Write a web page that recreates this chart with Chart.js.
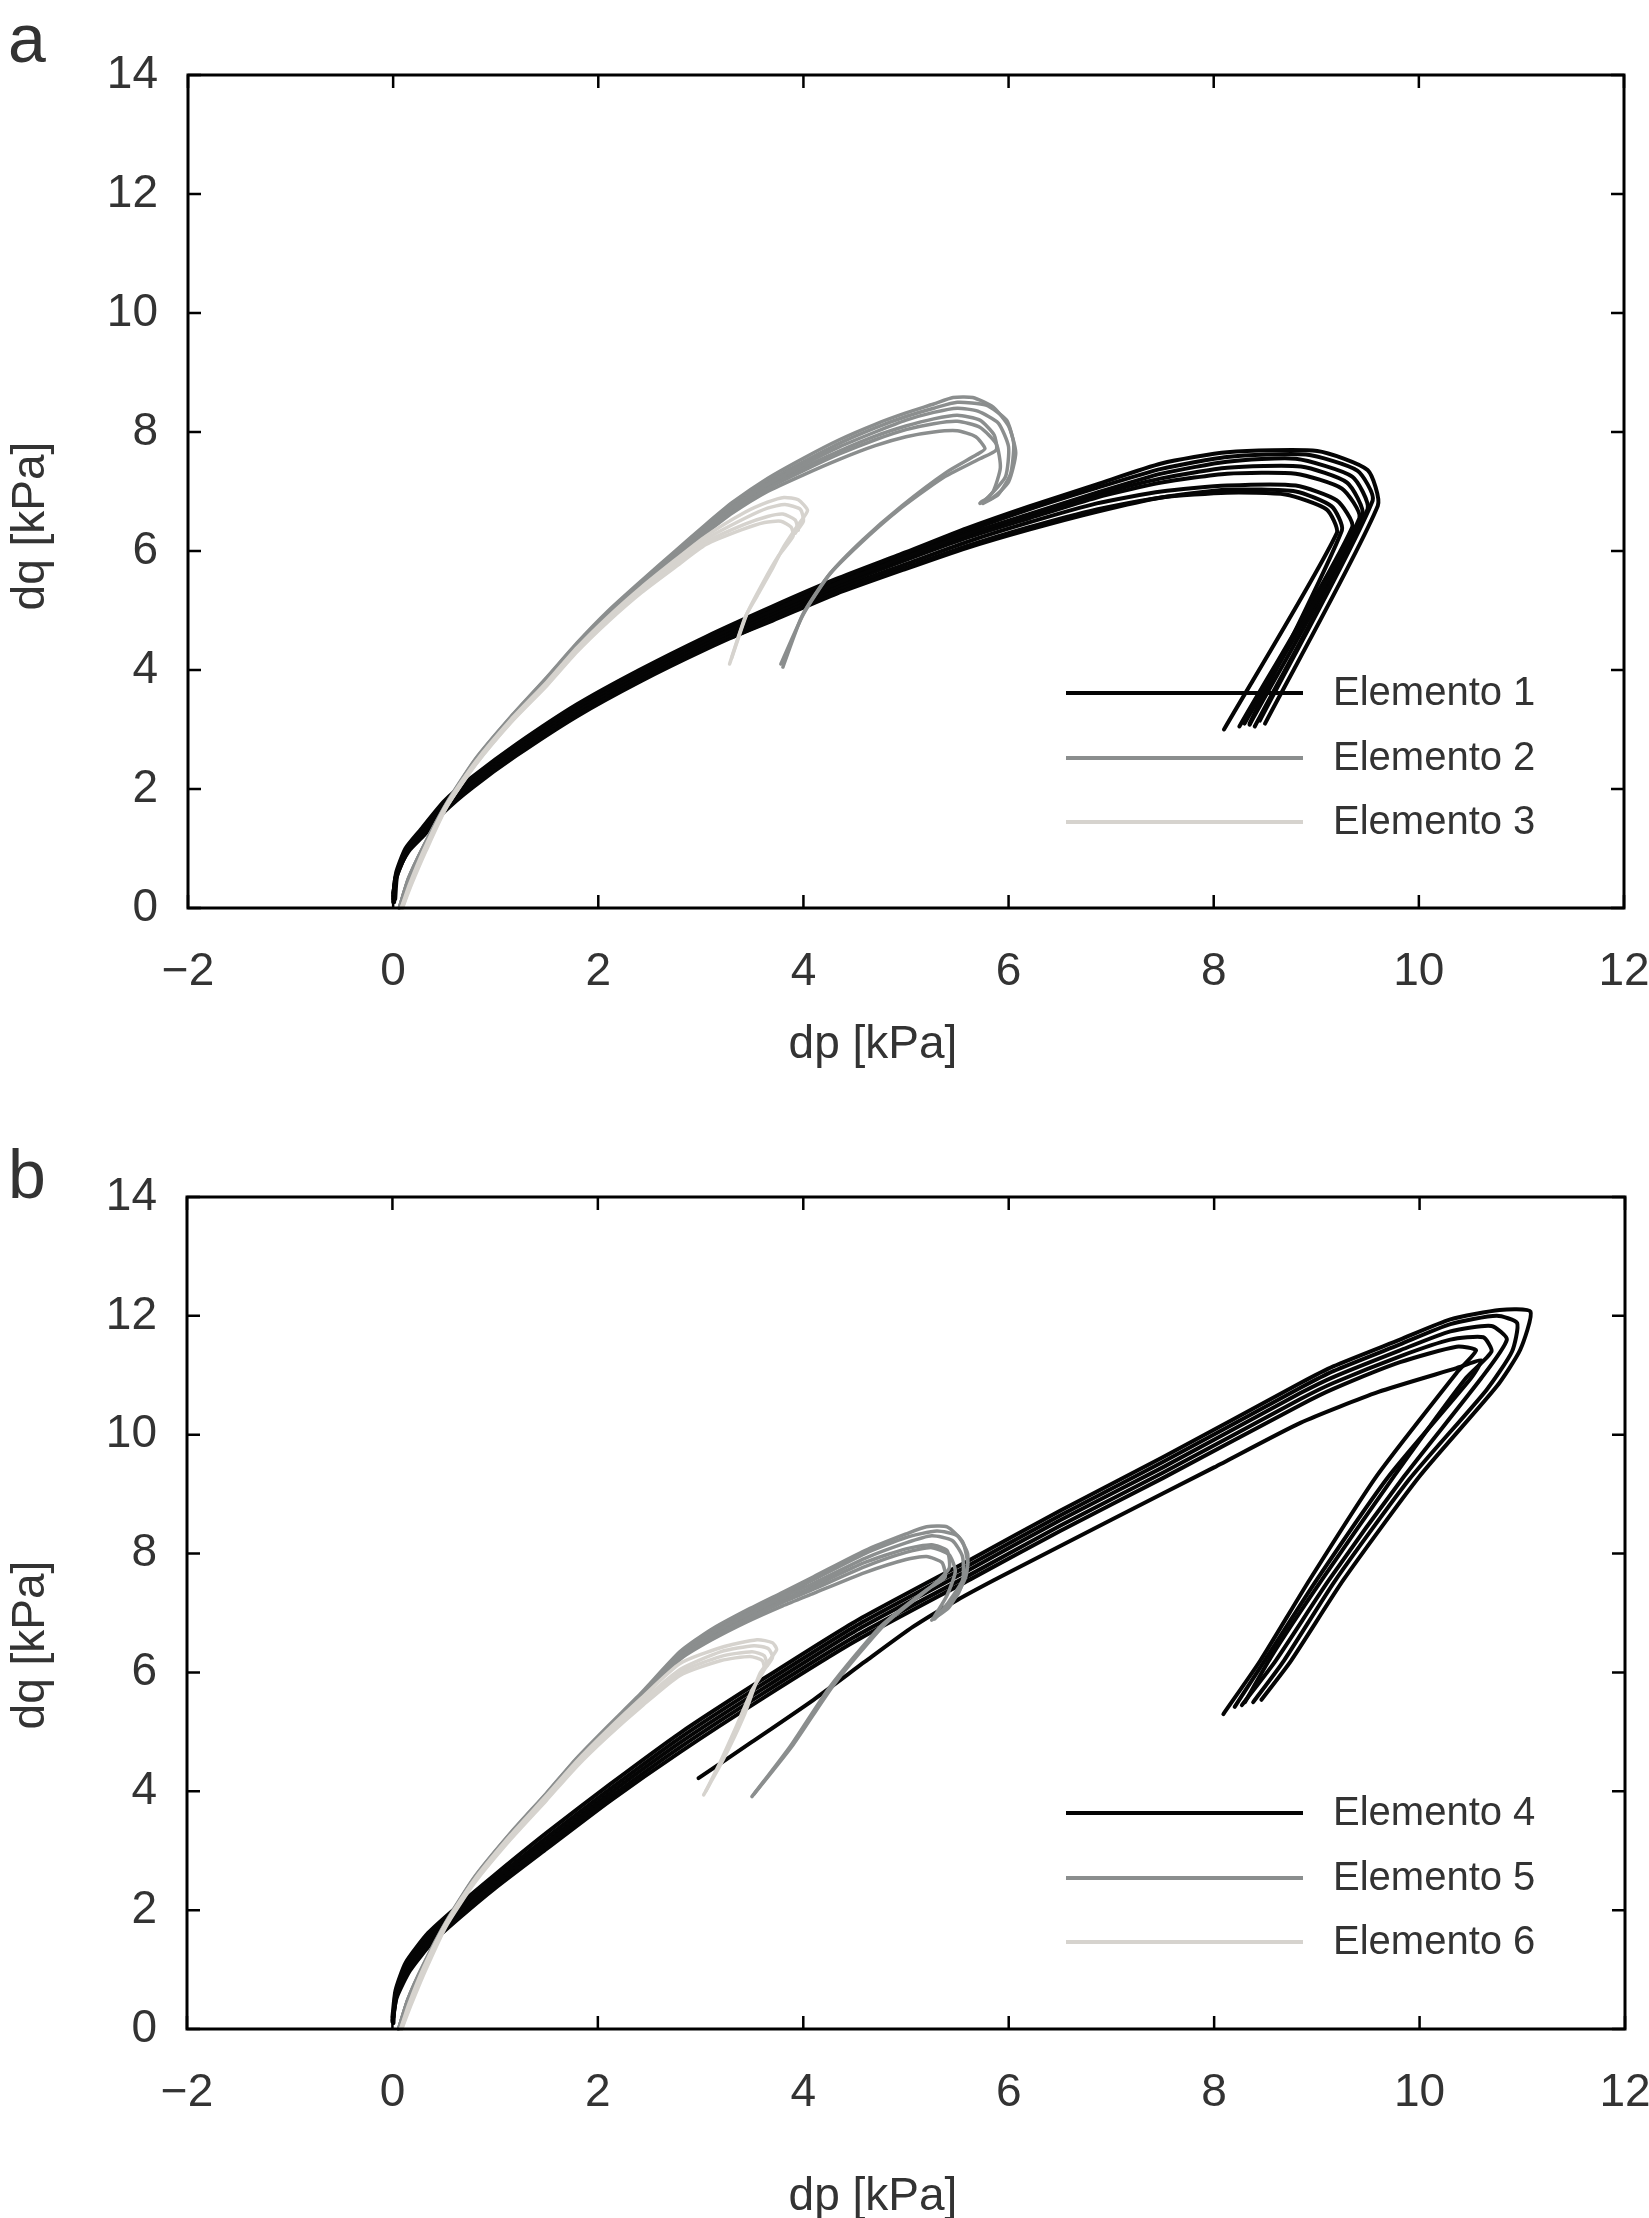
<!DOCTYPE html>
<html><head><meta charset="utf-8">
<script src="https://cdn.jsdelivr.net/npm/chart.js@4/dist/chart.umd.min.js"></script>
<style>
html,body{margin:0;padding:0;background:#fff;width:1649px;height:2218px;overflow:hidden}
canvas{position:absolute;left:0}
</style></head><body>
<canvas id="ca" width="1649" height="1100" style="top:0;width:1649px;height:1100px"></canvas>
<canvas id="cb" width="1649" height="1118" style="top:1100px;width:1649px;height:1118px"></canvas>
<script>
// ---------- axes / labels ----------
const xTickValues = [-2, 0, 2, 4, 6, 8, 10, 12];
const yTickValues = [0, 2, 4, 6, 8, 10, 12, 14];
const xAxisTitle = "dp [kPa]";
const yAxisTitle = "dq [kPa]";
const legendA = ["Elemento 1", "Elemento 2", "Elemento 3"];
const legendB = ["Elemento 4", "Elemento 5", "Elemento 6"];

// ---------- panel a : Elemento 1 (black) ----------
const e1_c1 = [[0.0,0.2],[0.03,0.6],[0.12,1.0],[0.26,1.3],[0.5,1.8],[0.77,2.2],[1.2,2.75],[1.79,3.42],[2.4,4.0],[3.05,4.56],[3.7,5.07],[4.32,5.53],[5.0,5.98],[5.59,6.38],[6.2,6.75],[6.86,7.12],[7.49,7.47],[8.13,7.66],[9.01,7.68],[9.5,7.36],[9.6,6.76],[8.5,3.1]];
const e1_c2 = [[0.0,0.1],[0.02,0.5],[0.12,0.95],[0.26,1.25],[0.5,1.74],[0.77,2.15],[1.2,2.7],[1.79,3.37],[2.4,3.95],[3.05,4.5],[3.7,5.0],[4.32,5.45],[5.0,5.9],[5.59,6.28],[6.2,6.62],[6.86,6.98],[7.49,7.3],[8.13,7.5],[8.8,7.55],[9.35,7.25],[9.5,6.7],[8.4,3.05]];
const e1_c3 = [[0.02,0.15],[0.04,0.55],[0.15,0.98],[0.3,1.28],[0.5,1.7],[0.77,2.1],[1.2,2.65],[1.79,3.32],[2.4,3.9],[3.05,4.45],[3.7,4.95],[4.32,5.4],[5.0,5.85],[5.59,6.22],[6.2,6.55],[6.86,6.9],[7.49,7.15],[8.13,7.3],[8.8,7.3],[9.25,7.05],[9.42,6.55],[8.3,3.1]];
const e1_c4 = [[0.01,0.1],[0.03,0.5],[0.14,0.95],[0.3,1.25],[0.5,1.66],[0.77,2.06],[1.2,2.6],[1.79,3.27],[2.4,3.85],[3.05,4.4],[3.7,4.9],[4.32,5.35],[5.0,5.78],[5.59,6.15],[6.2,6.48],[6.86,6.8],[7.49,7.0],[8.13,7.1],[8.8,7.1],[9.2,6.85],[9.35,6.4],[8.25,3.05]];
const e1_c5 = [[0.0,0.25],[0.04,0.6],[0.15,0.95],[0.3,1.22],[0.5,1.62],[0.77,2.02],[1.2,2.56],[1.79,3.22],[2.4,3.8],[3.05,4.35],[3.7,4.85],[4.32,5.3],[5.0,5.72],[5.59,6.08],[6.2,6.4],[6.86,6.7],[7.49,6.9],[8.13,6.98],[8.7,6.95],[9.1,6.7],[9.2,6.3],[8.1,3.0]];
const e1_c6 = [[3.3,4.55],[3.7,4.83],[4.32,5.28],[5.0,5.7],[5.59,6.05],[6.2,6.36],[6.86,6.66],[7.49,6.9],[8.13,7.03],[8.8,7.0],[9.15,6.75],[9.25,6.35],[8.35,3.1]];
const e1_c7 = [[0.0,0.15],[0.03,0.55],[0.13,0.98],[0.27,1.28],[0.5,1.77],[0.77,2.18],[1.2,2.72],[1.79,3.4],[2.4,3.98],[3.05,4.53],[3.7,5.04],[4.32,5.5],[5.0,5.95],[5.59,6.33],[6.2,6.7],[6.86,7.06],[7.49,7.38],[8.13,7.58],[8.9,7.62],[9.4,7.35],[9.55,6.85],[8.45,3.15]];
const e1_c8 = [[0.01,0.2],[0.03,0.55],[0.14,0.96],[0.29,1.26],[0.5,1.72],[0.77,2.12],[1.2,2.68],[1.79,3.35],[2.4,3.92],[3.05,4.47],[3.7,4.97],[4.32,5.43],[5.0,5.87],[5.59,6.25],[6.2,6.58],[6.86,6.94],[7.49,7.22],[8.13,7.4],[8.85,7.42],[9.3,7.15],[9.45,6.6],[8.35,3.08]];

// ---------- panel a : Elemento 2 (grey) ----------
const e2_c1 = [[0.06,0.0],[0.15,0.5],[0.3,1.05],[0.52,1.76],[0.8,2.5],[1.15,3.22],[1.5,3.88],[1.79,4.45],[2.1,5.0],[2.42,5.5],[2.75,6.0],[3.05,6.45],[3.31,6.82],[3.65,7.22],[4.0,7.56],[4.35,7.87],[4.7,8.13],[5.0,8.32],[5.27,8.47],[5.46,8.58],[5.65,8.58],[5.85,8.42],[6.0,8.1],[6.07,7.65],[6.0,7.16],[5.85,6.9],[5.72,6.8]];
const e2_c2 = [[0.07,0.0],[0.16,0.5],[0.31,1.05],[0.52,1.74],[0.8,2.47],[1.15,3.2],[1.5,3.85],[1.79,4.42],[2.1,4.96],[2.42,5.45],[2.75,5.94],[3.05,6.38],[3.31,6.74],[3.65,7.12],[4.0,7.45],[4.35,7.75],[4.7,8.0],[5.0,8.2],[5.27,8.33],[5.5,8.4],[5.7,8.35],[5.9,8.15],[6.0,7.75],[5.97,7.25],[5.8,6.9],[5.73,6.82]];
const e2_c3 = [[0.06,0.0],[0.15,0.48],[0.3,1.02],[0.52,1.72],[0.8,2.45],[1.15,3.18],[1.5,3.83],[1.79,4.4],[2.1,4.93],[2.42,5.42],[2.75,5.9],[3.05,6.33],[3.31,6.68],[3.65,7.05],[4.0,7.35],[4.35,7.63],[4.7,7.87],[5.0,8.04],[5.27,8.14],[5.5,8.18],[5.72,8.08],[5.88,7.8],[5.92,7.4],[5.85,7.0],[5.75,6.82]];
const e2_c4 = [[0.07,0.0],[0.16,0.47],[0.31,1.02],[0.52,1.7],[0.8,2.43],[1.15,3.16],[1.5,3.81],[1.79,4.38],[2.1,4.91],[2.42,5.4],[2.75,5.88],[3.05,6.3],[3.31,6.64],[3.65,7.0],[4.0,7.28],[4.35,7.54],[4.7,7.77],[5.0,7.92],[5.27,8.0],[5.5,8.02],[5.68,7.92],[5.77,7.72],[5.69,7.62],[5.4,7.33],[4.96,6.76],[4.58,6.19],[4.26,5.62],[4.0,4.94],[3.78,4.1]];
const e2_c5 = [[0.06,0.0],[0.15,0.49],[0.3,1.04],[0.52,1.73],[0.8,2.46],[1.15,3.19],[1.5,3.84],[1.79,4.41],[2.1,4.94],[2.42,5.44],[2.75,5.92],[3.05,6.35],[3.31,6.7],[3.65,7.08],[4.0,7.4],[4.35,7.68],[4.7,7.93],[5.0,8.1],[5.27,8.22],[5.5,8.28],[5.72,8.2],[5.86,7.95],[5.88,7.7],[5.72,7.55],[5.35,7.22],[4.92,6.68],[4.55,6.12],[4.24,5.58],[3.99,4.92],[3.8,4.05]];
const e2_c6 = [[0.06,0.0],[0.15,0.5],[0.3,1.05],[0.52,1.75],[0.8,2.49],[1.15,3.21],[1.5,3.87],[1.79,4.44],[2.1,4.98],[2.42,5.48],[2.75,5.97],[3.05,6.42],[3.31,6.78],[3.65,7.17],[4.0,7.5],[4.35,7.81],[4.7,8.07],[5.0,8.26],[5.27,8.4],[5.5,8.5],[5.78,8.45],[5.98,8.2],[6.05,7.8],[6.02,7.3],[5.9,6.95],[5.75,6.8]];

// ---------- panel a : Elemento 3 (light grey) ----------
const e3_c1 = [[0.08,0.0],[0.16,0.4],[0.3,0.98],[0.52,1.74],[0.8,2.45],[1.15,3.17],[1.5,3.8],[1.79,4.37],[2.1,4.9],[2.42,5.39],[2.75,5.85],[3.05,6.25],[3.43,6.65],[3.65,6.82],[3.81,6.9],[3.95,6.86],[4.04,6.68],[3.94,6.42],[3.8,6.05],[3.69,5.68],[3.55,5.25],[3.43,4.88],[3.28,4.1]];
const e3_c2 = [[0.09,0.0],[0.17,0.4],[0.31,0.97],[0.52,1.72],[0.8,2.43],[1.15,3.15],[1.5,3.78],[1.79,4.34],[2.1,4.87],[2.42,5.35],[2.75,5.8],[3.05,6.2],[3.43,6.55],[3.65,6.72],[3.82,6.78],[3.97,6.7],[4.0,6.5],[3.92,6.3]];
const e3_c3 = [[0.08,0.0],[0.17,0.39],[0.31,0.96],[0.52,1.7],[0.8,2.41],[1.15,3.13],[1.5,3.76],[1.79,4.32],[2.1,4.84],[2.42,5.32],[2.75,5.76],[3.05,6.15],[3.43,6.45],[3.65,6.58],[3.8,6.62],[3.92,6.52],[3.95,6.35]];
const e3_c4 = [[0.09,0.0],[0.18,0.4],[0.32,0.96],[0.52,1.69],[0.8,2.4],[1.15,3.12],[1.5,3.74],[1.79,4.3],[2.1,4.82],[2.42,5.3],[2.75,5.73],[3.05,6.11],[3.4,6.36],[3.62,6.48],[3.78,6.5],[3.88,6.4],[3.9,6.25],[3.75,5.9],[3.6,5.45],[3.45,4.95],[3.3,4.2]];

// ---------- panel b : Elemento 4 (black) ----------
const e4_c1 = [[0.0,0.2],[0.03,0.65],[0.13,1.12],[0.35,1.62],[0.63,2.06],[1.0,2.6],[1.5,3.3],[2.12,4.12],[2.8,4.98],[3.6,5.88],[4.5,6.85],[5.63,7.9],[6.5,8.72],[7.5,9.62],[8.84,10.87],[9.16,11.15],[9.81,11.6],[10.3,11.94],[10.78,12.1],[11.08,12.07],[10.98,11.43],[10.75,10.81],[10.0,9.3],[9.26,7.56],[8.75,6.2],[8.46,5.54]];
const e4_c2 = [[0.01,0.1],[0.03,0.6],[0.14,1.08],[0.36,1.58],[0.63,2.0],[1.0,2.53],[1.5,3.22],[2.12,4.04],[2.8,4.9],[3.6,5.8],[4.5,6.77],[5.63,7.82],[6.5,8.64],[7.5,9.54],[8.84,10.79],[9.16,11.07],[9.81,11.52],[10.3,11.86],[10.75,12.0],[10.95,11.88],[10.9,11.4],[10.65,10.75],[9.9,9.25],[9.18,7.55],[8.68,6.2],[8.38,5.5]];
const e4_c3 = [[0.0,0.15],[0.04,0.58],[0.15,1.05],[0.37,1.54],[0.64,1.96],[1.0,2.47],[1.5,3.15],[2.12,3.97],[2.8,4.82],[3.6,5.72],[4.5,6.69],[5.63,7.74],[6.5,8.56],[7.5,9.45],[8.84,10.7],[9.16,10.97],[9.81,11.42],[10.3,11.74],[10.7,11.83],[10.85,11.6],[10.6,10.95],[9.85,9.3],[9.12,7.56],[8.6,6.2],[8.27,5.45]];
const e4_c4 = [[0.01,0.2],[0.04,0.55],[0.16,1.02],[0.38,1.5],[0.65,1.92],[1.0,2.42],[1.5,3.09],[2.12,3.9],[2.8,4.74],[3.6,5.64],[4.5,6.6],[5.63,7.65],[6.5,8.47],[7.5,9.36],[8.84,10.6],[9.16,10.87],[9.81,11.32],[10.3,11.6],[10.62,11.64],[10.7,11.4],[10.45,10.95],[9.75,9.3],[9.05,7.56],[8.55,6.25],[8.3,5.5]];
const e4_c5 = [[0.0,0.12],[0.04,0.52],[0.17,0.98],[0.39,1.46],[0.66,1.88],[1.0,2.37],[1.5,3.03],[2.12,3.84],[2.8,4.66],[3.6,5.56],[4.5,6.52],[5.63,7.57],[6.5,8.38],[7.5,9.27],[8.84,10.5],[9.16,10.77],[9.81,11.22],[10.36,11.48],[10.55,11.42],[10.36,11.04],[9.58,9.3],[8.93,7.56],[8.45,6.2],[8.09,5.3]];
const e4_c6 = [[2.98,4.22],[3.5,4.83],[4.1,5.54],[4.6,6.18],[5.07,6.77],[5.5,7.22],[5.92,7.61],[7.0,8.57],[8.0,9.45],[8.84,10.2],[9.6,10.72],[10.36,11.12],[10.6,11.25],[10.5,10.95],[9.7,9.3],[9.0,7.56],[8.5,6.22],[8.2,5.42]];

// ---------- panel b : Elemento 5 (grey) ----------
const e5_c1 = [[0.06,0.0],[0.15,0.5],[0.3,1.08],[0.52,1.8],[0.8,2.56],[1.15,3.3],[1.5,3.97],[1.79,4.55],[2.1,5.1],[2.42,5.65],[2.8,6.35],[3.1,6.72],[3.45,7.05],[3.8,7.35],[4.1,7.61],[4.6,8.05],[5.0,8.33],[5.2,8.45],[5.4,8.45],[5.55,8.2],[5.6,7.8],[5.5,7.3],[5.3,6.95]];
const e5_c2 = [[0.07,0.0],[0.16,0.5],[0.31,1.07],[0.52,1.78],[0.8,2.54],[1.15,3.28],[1.5,3.95],[1.79,4.53],[2.1,5.07],[2.42,5.62],[2.8,6.3],[3.1,6.65],[3.45,6.97],[3.8,7.27],[4.1,7.5],[4.6,7.92],[5.0,8.18],[5.25,8.3],[5.45,8.22],[5.55,7.95],[5.55,7.55],[5.4,7.15],[5.28,6.9]];
const e5_c3 = [[0.06,0.0],[0.15,0.48],[0.3,1.05],[0.52,1.76],[0.8,2.52],[1.15,3.26],[1.5,3.93],[1.79,4.5],[2.1,5.04],[2.42,5.58],[2.8,6.25],[3.1,6.58],[3.45,6.9],[3.8,7.18],[4.1,7.4],[4.6,7.78],[5.0,8.02],[5.25,8.1],[5.42,7.98],[5.48,7.7],[5.4,7.3],[5.27,6.92]];
const e5_c4 = [[0.07,0.0],[0.16,0.47],[0.31,1.04],[0.52,1.75],[0.8,2.5],[1.15,3.24],[1.5,3.91],[1.79,4.48],[2.1,5.02],[2.42,5.55],[2.8,6.22],[3.1,6.54],[3.45,6.85],[3.8,7.12],[4.1,7.33],[4.6,7.68],[5.0,7.9],[5.2,7.95],[5.35,7.85],[5.38,7.6],[5.2,7.39],[4.75,6.77],[4.26,5.76],[3.87,4.75],[3.5,3.91]];
const e5_c5 = [[0.06,0.0],[0.15,0.49],[0.3,1.06],[0.52,1.77],[0.8,2.53],[1.15,3.27],[1.5,3.94],[1.79,4.51],[2.1,5.05],[2.42,5.6],[2.8,6.27],[3.1,6.6],[3.45,6.93],[3.8,7.22],[4.1,7.45],[4.6,7.85],[5.0,8.08],[5.25,8.15],[5.4,8.05],[5.42,7.75],[5.25,7.45],[4.8,6.82],[4.3,5.8],[3.9,4.78],[3.52,3.95]];
const e5_c6 = [[0.06,0.0],[0.15,0.5],[0.3,1.07],[0.52,1.79],[0.8,2.55],[1.15,3.29],[1.5,3.96],[1.79,4.54],[2.1,5.08],[2.42,5.63],[2.8,6.32],[3.1,6.68],[3.45,7.0],[3.8,7.3],[4.1,7.56],[4.6,8.0],[5.0,8.27],[5.3,8.38],[5.5,8.3],[5.6,8.0],[5.58,7.6],[5.42,7.1],[5.25,6.88]];

// ---------- panel b : Elemento 6 (light grey) ----------
const e6_c1 = [[0.08,0.0],[0.16,0.42],[0.3,1.02],[0.52,1.78],[0.8,2.52],[1.15,3.26],[1.5,3.93],[1.79,4.5],[2.1,5.04],[2.42,5.56],[2.8,6.15],[3.2,6.42],[3.55,6.55],[3.7,6.5],[3.74,6.38],[3.58,5.99],[3.42,5.26],[3.22,4.53],[3.03,3.94]];
const e6_c2 = [[0.09,0.0],[0.17,0.41],[0.31,1.0],[0.52,1.76],[0.8,2.5],[1.15,3.23],[1.5,3.9],[1.79,4.47],[2.1,5.0],[2.42,5.5],[2.8,6.05],[3.2,6.35],[3.52,6.45],[3.66,6.4],[3.7,6.25],[3.6,6.0]];
const e6_c3 = [[0.08,0.0],[0.17,0.4],[0.31,0.99],[0.52,1.74],[0.8,2.48],[1.15,3.21],[1.5,3.87],[1.79,4.44],[2.1,4.97],[2.42,5.46],[2.8,6.0],[3.2,6.27],[3.5,6.35],[3.62,6.28],[3.65,6.12]];
const e6_c4 = [[0.09,0.0],[0.18,0.4],[0.32,0.98],[0.52,1.72],[0.8,2.46],[1.15,3.19],[1.5,3.85],[1.79,4.41],[2.1,4.93],[2.42,5.42],[2.8,5.95],[3.2,6.2],[3.48,6.27],[3.6,6.2],[3.62,6.05],[3.5,5.7],[3.35,5.1],[3.18,4.45],[3.05,4.0]];

// ---------- styling ----------
const COL_BLACK = '#050505';
const COL_GREY = '#8b8e8e';
const COL_LIGHT = '#d6d3ce';
const FONT = '"Liberation Sans", Arial, Helvetica, sans-serif';
const TXT = '#333333';

function ds(arr, color, order, width) {
  return {
    data: arr.map(p => ({x: p[0], y: p[1]})),
    showLine: true, borderColor: color, backgroundColor: color,
    borderWidth: width, pointRadius: 0, pointHoverRadius: 0,
    tension: 0.2, order: order, borderJoinStyle: 'round', borderCapStyle: 'round', clip: false
  };
}

function decorPlugin(o) {
  return {
    id: 'decor',
    afterDraw(chart) {
      const ctx = chart.ctx, a = chart.chartArea, xs = chart.scales.x, ys = chart.scales.y;
      ctx.save();
      ctx.strokeStyle = '#000'; ctx.lineWidth = 3;
      ctx.strokeRect(a.left, a.top, a.right - a.left, a.bottom - a.top);
      ctx.lineWidth = 2.5;
      xs.ticks.forEach(t => {
        const px = xs.getPixelForValue(t.value);
        ctx.beginPath();
        ctx.moveTo(px, a.bottom); ctx.lineTo(px, a.bottom - 13);
        ctx.moveTo(px, a.top); ctx.lineTo(px, a.top + 13);
        ctx.stroke();
      });
      ys.ticks.forEach(t => {
        const py = ys.getPixelForValue(t.value);
        ctx.beginPath();
        ctx.moveTo(a.left, py); ctx.lineTo(a.left + 13, py);
        ctx.moveTo(a.right, py); ctx.lineTo(a.right - 13, py);
        ctx.stroke();
      });
      ctx.fillStyle = TXT;
      ctx.font = '68px ' + FONT;
      ctx.textAlign = 'left'; ctx.textBaseline = 'alphabetic';
      ctx.fillText(o.letter, 8, o.letterBase);
      ctx.font = '46px ' + FONT;
      ctx.textAlign = 'center'; ctx.textBaseline = 'middle';
      ctx.fillText(xAxisTitle, o.xTitle[0], o.xTitle[1]);
      ctx.save();
      ctx.translate(o.yTitle[0], o.yTitle[1]);
      ctx.rotate(-Math.PI / 2);
      ctx.fillText(yAxisTitle, 0, 0);
      ctx.restore();
      ctx.font = '40px ' + FONT;
      ctx.textAlign = 'left'; ctx.textBaseline = 'middle';
      o.legend.forEach((lab, i) => {
        const y = o.legendY[i];
        ctx.strokeStyle = o.legendCols[i]; ctx.lineWidth = 4;
        ctx.beginPath(); ctx.moveTo(1066, y); ctx.lineTo(1303, y); ctx.stroke();
        ctx.fillStyle = TXT;
        ctx.fillText(lab, 1333, y + 1);
      });
      ctx.restore();
    }
  };
}

function zeroPad(s) { s.paddingLeft = 0; s.paddingRight = 0; s.paddingTop = 0; s.paddingBottom = 0; }

function makeChart(id, datasets, o) {
  return new Chart(document.getElementById(id), {
    type: 'scatter',
    data: {datasets: datasets},
    options: {
      responsive: false, animation: false, devicePixelRatio: 1,
      layout: {padding: {top: o.top, right: o.right, left: 0, bottom: 0}},
      plugins: {legend: {display: false}, tooltip: {enabled: false}, title: {display: false}},
      scales: {
        x: {
          type: 'linear', min: -2, max: 12,
          grid: {display: false, drawTicks: false}, border: {display: false},
          afterBuildTicks: s => { s.ticks = xTickValues.map(v => ({value: v})); },
          afterFit: s => { s.height = o.xHeight; zeroPad(s); },
          ticks: {padding: 37, color: TXT, font: {family: FONT, size: 46},
                  callback: v => (v < 0 ? '\u2212' + Math.abs(v) : String(v))}
        },
        y: {
          type: 'linear', min: 0, max: 14,
          grid: {display: false, drawTicks: false}, border: {display: false},
          afterBuildTicks: s => { s.ticks = yTickValues.map(v => ({value: v})); },
          afterFit: s => { s.width = o.yWidth; zeroPad(s); },
          ticks: {padding: 30, color: TXT, font: {family: FONT, size: 46}}
        }
      }
    },
    plugins: [decorPlugin(o)]
  });
}

const dsA = [
  ...[e3_c1, e3_c2, e3_c3, e3_c4].map(a => ds(a, COL_LIGHT, 1, 3.5)),
  ...[e2_c1, e2_c2, e2_c3, e2_c4, e2_c5, e2_c6].map(a => ds(a, COL_GREY, 2, 3.5)),
  ...[e1_c1, e1_c2, e1_c3, e1_c4, e1_c5, e1_c6, e1_c7, e1_c8].map(a => ds(a, COL_BLACK, 3, 4))
];
const dsB = [
  ...[e6_c1, e6_c2, e6_c3, e6_c4].map(a => ds(a, COL_LIGHT, 1, 3.5)),
  ...[e5_c1, e5_c2, e5_c3, e5_c4, e5_c5, e5_c6].map(a => ds(a, COL_GREY, 2, 3.5)),
  ...[e4_c1, e4_c2, e4_c3, e4_c4, e4_c5, e4_c6].map(a => ds(a, COL_BLACK, 3, 4))
];

makeChart('ca', dsA, {
  top: 75, right: 25, xHeight: 1100 - 908, yWidth: 188,
  letter: 'a', letterBase: 62, xTitle: [873, 1045], yTitle: [31, 526],
  legend: legendA, legendY: [693, 758, 822], legendCols: [COL_BLACK, COL_GREY, COL_LIGHT]
});
makeChart('cb', dsB, {
  top: 97, right: 24, xHeight: 1118 - 929, yWidth: 187,
  letter: 'b', letterBase: 98, xTitle: [873, 1097], yTitle: [31, 545],
  legend: legendB, legendY: [713, 778, 842], legendCols: [COL_BLACK, COL_GREY, COL_LIGHT]
});
</script>
</body></html>
